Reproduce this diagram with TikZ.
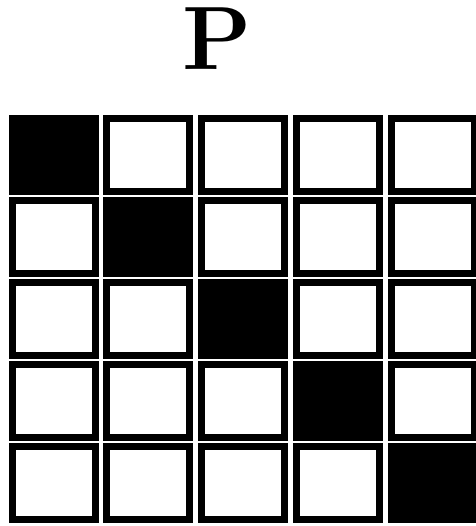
\documentclass[tikz,border=0pt]{standalone}
\usepackage{tikz}
\usetikzlibrary{positioning}
\tikzset{
  cell/.style={rectangle, draw=black, fill=white, line width=7pt,
    minimum width=83pt, minimum height=73pt, inner sep=0pt},
  diagcell/.style={cell, fill=black},
  title/.style={font=\fontsize{90}{90}\selectfont\bfseries, inner sep=0pt}
}
\begin{document}
\begin{tikzpicture}[x=1pt, y=-1pt]
  \useasboundingbox (0,0) rectangle (475,526);
  \node[title, anchor=base] (lbl) at (217,70) {P};

  % 5x5 grid, black on the diagonal
  \foreach \r in {1,...,5}{
    \foreach \c in {1,...,5}{
      \ifnum\r=\c
        \node[diagcell] (c-\r-\c) at ({53.5+94.75*(\c-1)}, {155+82*(\r-1)}) {};
      \else
        \node[cell] (c-\r-\c) at ({53.5+94.75*(\c-1)}, {155+82*(\r-1)}) {};
      \fi
    }
  }
\end{tikzpicture}
\end{document}
